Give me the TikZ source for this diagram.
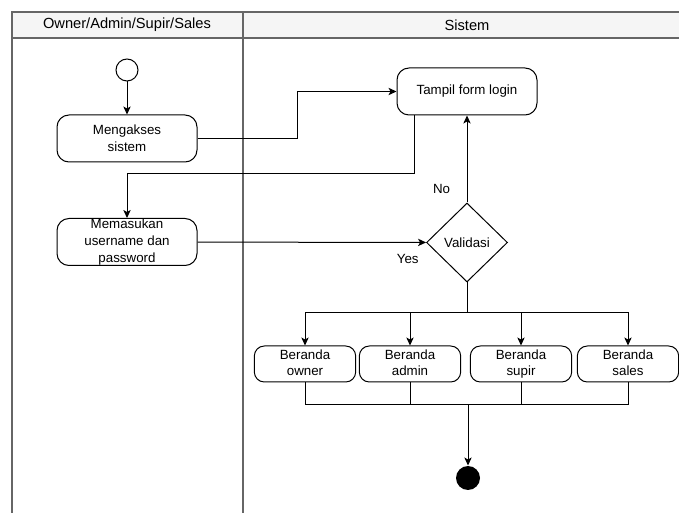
\documentclass[tikz,border=0pt]{standalone}
\usepackage{fontspec}
\setmainfont{Liberation Sans}
\usetikzlibrary{shapes.geometric,arrows.meta}

\definecolor{lanegray}{RGB}{102,102,102}
\definecolor{lanefill}{RGB}{245,245,245}

\begin{document}
\begin{tikzpicture}[x=0.75pt, y=-0.75pt, line width=0.75pt,
    every node/.style={font=\fontsize{10}{12.5}\selectfont},
    act/.style={draw, rounded corners=9pt, align=center, inner sep=0pt, minimum width=105pt, minimum height=35.25pt},
    home/.style={draw, rounded corners=7.5pt, align=center, inner sep=0pt, minimum width=76pt, minimum height=27pt},
    flow/.style={-{Stealth[length=6pt, width=5.5pt, inset=1.5pt]}}]

    \useasboundingbox (0,0) rectangle (679,513);

    \fill[lanefill] (12,12) rectangle (679,38);
    \draw[lanegray, line width=1pt] (12,513) -- (12,12) -- (679,12);
    \draw[lanegray, line width=1pt] (12,38) -- (679,38);
    \draw[lanegray, line width=1pt] (243,12) -- (243,513);
    \node[font=\fontsize{11}{13}\selectfont] (lane1) at (127,25) {Owner/Admin/Supir/Sales};
    \node[font=\fontsize{11}{13}\selectfont] (lane2) at (467,25) {Sistem};

    \node[circle, draw, minimum size=16.5pt, inner sep=0pt] (start) at (127,70) {};
    \node[act] (akses) at (127,138.5) {Mengakses\\sistem};
    \node[act] (masuk) at (127,242) {Memasukan\\username dan\\password};
    \node[act] (login) at (467,91.5) {Tampil form login};
    \node[diamond, draw, inner sep=0pt, minimum width=60.75pt, minimum height=59.25pt] (valid) at (467,242.5) {Validasi};

    \foreach \x/\n/\t in {305/own/owner,410/adm/admin,521/sup/supir,628/sal/sales}{
    \node[home] (\n) at (\x,364) {Beranda\\\t\vphantom{p}};
}

    \node[circle, fill=black, minimum size=18pt, inner sep=0pt] (end) at (468,478) {};

\draw[flow] (start) -- (akses);
\draw[flow] (akses.east) -- ++(100,0) |- (login.west);
\draw[flow] ([xshift=13.5pt]login.south west) -- ++(0,58) -| (masuk.north);
\draw[flow] (masuk) -- node[pos=0.92, below=5pt]{Yes} (valid);
\draw[flow] (valid) -- node[pos=0.16, left=9pt]{No} (login);

\draw (valid.south) -- ++(0,30) coordinate (split);
\draw (own.north |- split) -- (sal.north |- split);
\foreach \n in {own,adm,sup,sal}{
    \draw[flow] (\n.north |- split) -- (\n.north);
}

\coordinate (join) at (468,405);
\draw (own.south |- join) -- (sal.south |- join);
\foreach \n in {own,adm,sup,sal}{
    \draw (\n.south) -- (\n.south |- join);
}
\draw[flow] (join) -- (end);

\end{tikzpicture}
\end{document}
